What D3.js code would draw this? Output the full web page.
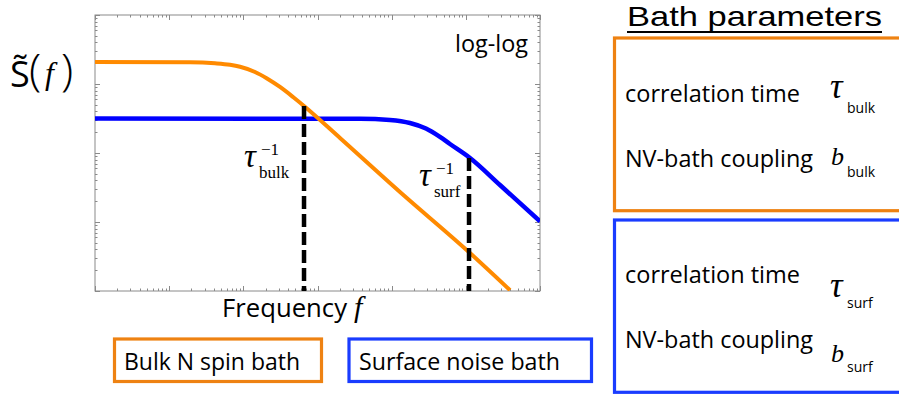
<!DOCTYPE html>
<html>
<head>
<meta charset="utf-8">
<script src="https://cdn.jsdelivr.net/npm/d3@7"></script>
<style>
  html, body { margin: 0; padding: 0; background: #fff; }
  svg { display: block; }
</style>
</head>
<body>
<svg width="899" height="396"></svg>
<script>
// values (frequency, spectral density), log-log
const bulkFreq = [1, 19.1, 41.5, 66.1, 90.2, 143.6, 208.4, 312, 467.7, 657.7, 2010, 12940, 113800, 393600];
const bulkS    = [2080, 2063, 1995, 1897, 1775, 1493, 1202, 905, 648, 480, 165, 27.2, 3.55, 1.03];
const surfFreq = [1, 3741, 9490, 17650, 29010, 44780, 61100, 113800, 288700, 1000000];
const surfS    = [316, 314, 301, 272, 226, 171, 135, 84.7, 34.4, 10.2];
const cutoffFreq = [658, 110400];
const cutoffTop  = [480, 84.7];
const freqDomain = [1, 1e6];
const sDomain = [1, 1e4];

const orangeLine = "#ff8a00", blueLine = "#0000ff";
const orangeBox = "#ee8212", blueBox = "#1a3cff";

const svg = d3.select("svg");
const plotLeft = 95, plotTop = 15, plotW = 445, plotH = 276;

const x = d3.scaleLog().domain(freqDomain).range([plotLeft, plotLeft + plotW]);
const y = d3.scaleLog().domain(sDomain).range([plotTop + plotH, plotTop]);

svg.append("clipPath").attr("id", "plotclip")
  .append("rect").attr("x", plotLeft).attr("y", plotTop).attr("width", plotW).attr("height", plotH);

// frame
svg.append("rect")
  .attr("x", plotLeft).attr("y", plotTop).attr("width", plotW).attr("height", plotH)
  .attr("fill", "none").attr("stroke", "#8a8a8a").attr("stroke-width", 1);

// log ticks on all four sides, pointing inward
const isMajor = v => Math.abs(Math.log10(v) - Math.round(Math.log10(v))) < 1e-6;
const tickG = svg.append("g").attr("stroke", "#8a8a8a").attr("stroke-width", 1);
x.ticks().forEach(v => {
  const len = isMajor(v) ? 5 : 2.5;
  const px = Math.round(x(v)) + 0.5;
  tickG.append("line").attr("x1", px).attr("x2", px).attr("y1", plotTop + plotH).attr("y2", plotTop + plotH - len);
  tickG.append("line").attr("x1", px).attr("x2", px).attr("y1", plotTop).attr("y2", plotTop + len);
});
y.ticks().forEach(v => {
  const len = isMajor(v) ? 5 : 2.5;
  const py = Math.round(y(v)) + 0.5;
  tickG.append("line").attr("y1", py).attr("y2", py).attr("x1", plotLeft).attr("x2", plotLeft + len);
  tickG.append("line").attr("y1", py).attr("y2", py).attr("x1", plotLeft + plotW).attr("x2", plotLeft + plotW - len);
});

// spectra
const line = d3.line().x(d => x(d[0])).y(d => y(d[1])).curve(d3.curveMonotoneX);
const plot = svg.append("g").attr("clip-path", "url(#plotclip)");
plot.append("path").datum(d3.zip(surfFreq, surfS))
  .attr("d", line).attr("fill", "none").attr("stroke", blueLine).attr("stroke-width", 4.5);
plot.append("path").datum(d3.zip(bulkFreq, bulkS))
  .attr("d", line).attr("fill", "none").attr("stroke", orangeLine).attr("stroke-width", 4);

// cutoff markers
cutoffFreq.forEach((f, i) => {
  plot.append("line")
    .attr("x1", x(f)).attr("x2", x(f)).attr("y1", y(cutoffTop[i])).attr("y2", y(sDomain[0]))
    .attr("stroke", "#000").attr("stroke-width", 4.5).attr("stroke-dasharray", "13,5");
});

const sans = "'Open Sans', 'Noto Sans', sans-serif";
const serif = "'Liberation Serif', 'DejaVu Serif', serif";

// label at x / baseline y, stretched to the width seen in the picture
function label(txt, px, py, w, size) {
  return svg.append("text").attr("x", px).attr("y", py)
    .attr("font-family", sans).attr("font-size", size).attr("fill", "#000")
    .attr("textLength", w).attr("lengthAdjust", "spacingAndGlyphs").text(txt);
}

function tauLabel(px, py, sub) {
  svg.append("text").attr("x", px).attr("y", py).attr("font-family", serif)
    .attr("font-style", "italic").attr("font-size", 33).text("τ");
  svg.append("text").attr("x", px + 17).attr("y", py - 12).attr("font-family", serif)
    .attr("font-size", 17).text("−1");
  svg.append("text").attr("x", px + 15).attr("y", py + 11).attr("font-family", serif)
    .attr("font-size", 17).text(sub);
}
tauLabel(244, 167, "bulk");
tauLabel(419, 186, "surf");

label("log-log", 455, 52, 73, 23);

// axis titles
label("Frequency", 222, 317, 125, 25.5);
svg.append("text").attr("x", 354).attr("y", 317).attr("font-family", serif)
  .attr("font-style", "italic").attr("font-size", 30).text("f");

svg.append("text").attr("x", 10).attr("y", 87).attr("font-family", sans)
  .attr("font-size", 36).text("S\u0303");
svg.append("text").attr("x", 29).attr("y", 86).attr("font-family", sans)
  .attr("font-weight", 300).attr("font-size", 45).text("(");
svg.append("text").attr("x", 45).attr("y", 84).attr("font-family", serif)
  .attr("font-style", "italic").attr("font-size", 32).text("f");
svg.append("text").attr("x", 61).attr("y", 86).attr("font-family", sans)
  .attr("font-weight", 300).attr("font-size", 45).text(")");

// bath name boxes
svg.append("rect").attr("x", 114.5).attr("y", 339).attr("width", 207).attr("height", 42.5)
  .attr("fill", "none").attr("stroke", orangeBox).attr("stroke-width", 3.2);
svg.append("rect").attr("x", 349).attr("y", 339).attr("width", 242.5).attr("height", 42.5)
  .attr("fill", "none").attr("stroke", blueBox).attr("stroke-width", 3.2);
label("Bulk N spin bath", 124, 370, 176, 23);
label("Surface noise bath", 359, 370, 201, 23);

// parameter panel
label("Bath parameters", 627, 26, 255, 28.5).attr("font-family", "'Liberation Sans', sans-serif");
svg.append("rect").attr("x", 627).attr("y", 31).attr("width", 255).attr("height", 2).attr("fill", "#000");

svg.append("rect").attr("x", 614.5).attr("y", 38).attr("width", 300).attr("height", 172.7)
  .attr("fill", "none").attr("stroke", orangeBox).attr("stroke-width", 3.2);
svg.append("rect").attr("x", 614.5).attr("y", 220).attr("width", 300).attr("height", 172.3)
  .attr("fill", "none").attr("stroke", blueBox).attr("stroke-width", 3.2);

function param(sym, sub, py, subDy, isTau) {
  svg.append("text").attr("x", isTau ? 830 : 831).attr("y", py).attr("font-family", serif)
    .attr("font-style", "italic").attr("font-size", isTau ? 35 : 26).text(sym);
  svg.append("text").attr("x", 847).attr("y", py + subDy).attr("font-family", sans)
    .attr("font-size", 14).text(sub);
}
label("correlation time", 625, 102, 175, 23);
label("NV-bath coupling", 625, 167, 188, 23);
param("τ", "bulk", 98, 15, true);
param("b", "bulk", 165, 12, false);

label("correlation time", 625, 283, 175, 23);
label("NV-bath coupling", 625, 348, 188, 23);
param("τ", "surf", 297, 11, true);
param("b", "surf", 362, 10, false);
</script>
</body>
</html>
